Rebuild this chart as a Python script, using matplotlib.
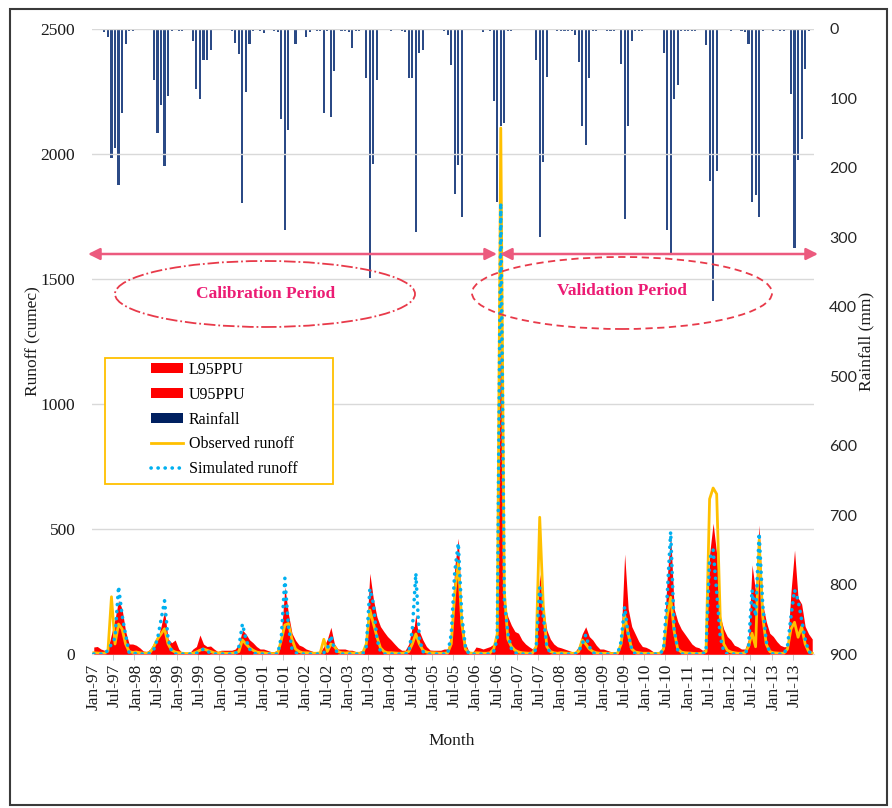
import matplotlib
matplotlib.use("Agg")
import matplotlib.pyplot as plt
from matplotlib.patches import Patch, Ellipse, Rectangle
from matplotlib.lines import Line2D

# ---------------- data (monthly, Jan-1997 .. Dec-2013) ----------------
observed = [
    5, 4, 3, 3, 12, 229, 40, 120, 100, 40, 10, 6,        # 1997
    8, 5, 3, 3, 8, 30, 60, 80, 101, 40, 15, 8,           # 1998
    5, 3, 2, 2, 3, 8, 15, 20, 15, 10, 5, 4,              # 1999
    5, 3, 3, 3, 5, 10, 56, 40, 25, 15, 8, 5,             # 2000
    5, 3, 2, 2, 5, 56, 116, 122, 60, 20, 10, 5,          # 2001
    5, 4, 3, 3, 5, 59, 10, 40, 30, 10, 5, 4,             # 2002
    5, 4, 3, 3, 5, 40, 176, 122, 69, 25, 10, 5,          # 2003
    5, 4, 3, 3, 5, 10, 40, 80, 40, 15, 8, 5,             # 2004
    5, 4, 3, 3, 5, 40, 243, 369, 120, 20, 5, 3,          # 2005
    5, 4, 3, 3, 5, 20, 80, 2104, 250, 60, 30, 15,        # 2006
    8, 5, 4, 3, 5, 30, 547, 195, 30, 10, 5, 3,           # 2007
    5, 4, 3, 3, 3, 10, 56, 40, 20, 10, 5, 3,             # 2008
    3, 3, 2, 2, 3, 40, 156, 80, 20, 8, 5, 3,             # 2009
    3, 3, 2, 2, 3, 20, 150, 227, 90, 20, 8, 5,           # 2010
    4, 3, 2, 2, 3, 10, 620, 664, 640, 150, 40, 15,       # 2011
    8, 5, 3, 3, 5, 30, 83, 29, 456, 150, 40, 10,         # 2012
    5, 4, 3, 3, 20, 100, 127, 67, 109, 40, 10, 3,        # 2013
]
simulated = [
    0, 0, 0, 0, 15, 40, 64, 270, 156, 76, 5, 0,
    3, 0, 0, 0, 3, 20, 60, 136, 213, 60, 10, 0,
    0, 0, 0, 0, 0, 3, 10, 20, 10, 5, 0, 0,
    0, 0, 0, 0, 0, 30, 120, 60, 20, 5, 0, 0,
    0, 0, 0, 0, 0, 70, 303, 110, 20, 5, 0, 0,
    0, 0, 0, 0, 0, 5, 20, 73, 20, 5, 0, 0,
    0, 0, 0, 0, 0, 30, 260, 203, 60, 10, 0, 0,
    0, 0, 0, 0, 0, 5, 96, 323, 60, 10, 0, 0,
    0, 0, 0, 0, 0, 80, 330, 443, 150, 30, 0, 0,
    0, 0, 0, 0, 0, 10, 60, 1804, 216, 83, 20, 5,
    0, 0, 0, 0, 0, 20, 265, 150, 30, 5, 0, 0,
    0, 0, 0, 0, 0, 10, 40, 76, 30, 5, 0, 0,
    0, 0, 0, 0, 0, 50, 189, 80, 20, 0, 0, 0,
    0, 0, 0, 0, 0, 20, 230, 489, 100, 15, 0, 0,
    0, 0, 0, 0, 0, 10, 380, 416, 250, 70, 10, 0,
    0, 0, 0, 0, 0, 30, 256, 150, 483, 200, 50, 5,
    0, 0, 0, 0, 30, 150, 256, 216, 136, 60, 10, 0,
]
u95ppu = [
    28, 30, 20, 15, 20, 80, 140, 215, 180, 90, 40, 40,
    35, 25, 12, 10, 20, 45, 60, 110, 172, 60, 45, 56,
    20, 5, 3, 3, 20, 30, 76, 40, 30, 32, 20, 10,
    15, 15, 15, 15, 20, 40, 96, 80, 57, 45, 30, 20,
    20, 15, 10, 10, 15, 80, 269, 160, 83, 55, 36, 30,
    20, 15, 10, 8, 8, 30, 60, 107, 40, 20, 20, 20,
    15, 15, 10, 10, 15, 60, 323, 220, 149, 110, 89, 70,
    56, 40, 25, 15, 15, 40, 110, 110, 90, 56, 30, 16,
    15, 15, 15, 20, 20, 90, 350, 463, 149, 43, 10, 5,
    28, 25, 20, 25, 30, 40, 80, 1500, 200, 149, 115, 90,
    83, 56, 40, 29, 20, 40, 320, 190, 96, 60, 40, 29,
    25, 20, 15, 10, 10, 30, 80, 109, 70, 56, 35, 20,
    20, 15, 10, 8, 8, 60, 400, 180, 110, 80, 50, 30,
    27, 20, 10, 8, 8, 40, 300, 480, 180, 130, 100, 80,
    60, 40, 29, 25, 15, 20, 400, 523, 400, 149, 100, 70,
    56, 35, 29, 20, 20, 60, 356, 250, 516, 200, 130, 83,
    70, 50, 35, 29, 30, 250, 416, 224, 200, 110, 80, 60,
]
l95ppu = [
    0, 0, 0, 0, 3, 15, 30, 120, 90, 30, 5, 0,
    0, 0, 0, 0, 0, 10, 30, 70, 110, 30, 5, 0,
    0, 0, 0, 0, 0, 0, 5, 10, 5, 0, 0, 0,
    0, 0, 0, 0, 0, 10, 60, 30, 10, 0, 0, 0,
    0, 0, 0, 0, 0, 30, 150, 60, 10, 0, 0, 0,
    0, 0, 0, 0, 0, 0, 10, 40, 10, 0, 0, 0,
    0, 0, 0, 0, 0, 15, 150, 100, 30, 5, 0, 0,
    0, 0, 0, 0, 0, 0, 50, 160, 30, 5, 0, 0,
    0, 0, 0, 0, 0, 40, 160, 220, 70, 10, 0, 0,
    0, 0, 0, 0, 0, 5, 30, 900, 100, 40, 10, 0,
    0, 0, 0, 0, 0, 10, 130, 70, 10, 0, 0, 0,
    0, 0, 0, 0, 0, 5, 20, 40, 10, 0, 0, 0,
    0, 0, 0, 0, 0, 20, 90, 40, 10, 0, 0, 0,
    0, 0, 0, 0, 0, 10, 110, 240, 50, 5, 0, 0,
    0, 0, 0, 0, 0, 5, 190, 200, 120, 30, 5, 0,
    0, 0, 0, 0, 0, 15, 120, 70, 240, 100, 20, 0,
    0, 0, 0, 0, 15, 70, 120, 100, 60, 30, 5, 0,
]
rainfall = [
    2, 0, 0, 5, 11, 186, 172, 224, 121, 22, 3, 3,        # 1997
    0, 2, 2, 2, 2, 74, 150, 110, 197, 96, 3, 0,          # 1998
    3, 3, 0, 0, 17, 86, 101, 45, 45, 30, 0, 0,           # 1999
    0, 0, 0, 3, 20, 36, 251, 90, 22, 3, 0, 3,            # 2000
    6, 0, 0, 3, 5, 129, 290, 145, 0, 22, 0, 0,           # 2001
    11, 4, 0, 3, 3, 121, 3, 127, 61, 0, 3, 3,            # 2002
    5, 28, 3, 3, 0, 71, 358, 194, 74, 0, 0, 0,           # 2003
    3, 0, 0, 3, 5, 71, 71, 292, 35, 30, 0, 0,            # 2004
    0, 0, 0, 3, 9, 52, 237, 196, 271, 0, 0, 0,           # 2005
    0, 0, 5, 0, 3, 104, 249, 140, 136, 3, 3, 0,          # 2006
    0, 2, 2, 2, 2, 44, 300, 191, 69, 0, 0, 3,            # 2007
    3, 3, 3, 3, 8, 47, 140, 167, 71, 3, 3, 0,            # 2008
    0, 3, 3, 3, 0, 50, 273, 140, 17, 3, 3, 3,            # 2009
    0, 0, 0, 0, 0, 34, 290, 324, 101, 80, 3, 3,          # 2010
    3, 3, 3, 0, 0, 23, 219, 391, 204, 0, 0, 0,           # 2011
    3, 0, 0, 3, 5, 22, 249, 239, 271, 3, 0, 0,           # 2012
    3, 0, 3, 3, 0, 93, 316, 188, 158, 57, 3, 0,          # 2013
]
tick_labels = [
    "Jan-97", "Jul-97", "Jan-98", "Jul-98", "Jan-99", "Jul-99", "Jan-00", "Jul-00",
    "Jan-01", "Jul-01", "Jan-02", "Jul-02", "Jan-03", "Jul-03", "Jan-04", "Jul-04",
    "Jan-05", "Jul-05", "Jan-06", "Jul-06", "Jan-07", "Jul-07", "Jan-08", "Jul-08",
    "Jan-09", "Jul-09", "Jan-10", "Jul-10", "Jan-11", "Jul-11", "Jan-12", "Jul-12",
    "Jan-13", "Jul-13",
]
runoff_ticks = [0, 500, 1000, 1500, 2000, 2500]
rain_ticks = [0, 100, 200, 300, 400, 500, 600, 700, 800, 900]

# ---------------- figure ----------------
SERIF = ["Liberation Serif", "DejaVu Serif"]
SANS = ["Lato", "DejaVu Sans"]

W, H = 892, 808
fig = plt.figure(figsize=(W / 100, H / 100), dpi=100)
L, R, T, B = 92, 814, 29, 654
ax = fig.add_axes([L / W, 1 - B / H, (R - L) / W, (B - T) / H])
ax2 = ax.twinx()
ax.set_zorder(ax2.get_zorder() + 1)
ax.patch.set_visible(False)

n = len(observed)
x = list(range(n))

# rainfall bars (secondary, inverted axis)
ax2.bar(x, rainfall, width=0.6, color="#2B4A86", linewidth=0, zorder=2)
ax2.set_ylim(900, 0)
ax2.set_yticks(rain_ticks)
ax2.set_yticklabels([str(v) for v in rain_ticks], fontfamily=SANS, fontsize=11.5, color="#262626")
ax2.tick_params(axis="y", length=0, pad=11)

# runoff
ax.fill_between(x, 0, u95ppu, color="#FF0000", linewidth=0, zorder=3)
ax.fill_between(x, 0, l95ppu, color="#FF0000", linewidth=0, zorder=3)
ax.plot(x, observed, color="#FFC000", linewidth=2.0, zorder=4)
ax.plot(x, simulated, color="#00B0F0", linewidth=2.6, linestyle=(0, (0.05, 1.9)),
        dash_capstyle="round", zorder=5)

ax.set_xlim(-0.5, n - 0.5)
ax.set_ylim(0, 2500)
ax.set_yticks(runoff_ticks)
ax.set_yticklabels([str(v) for v in runoff_ticks], fontfamily=SERIF, fontsize=12.5, color="#1a1a1a")
ax.tick_params(axis="y", length=0, pad=12)
ax.grid(axis="y", color="#D9D9D9", linewidth=1.0, zorder=0)

ax.set_xticks(list(range(0, n, 6)))
ax.set_xticklabels(tick_labels, rotation=90, fontfamily=SERIF, fontsize=12.5, color="#1a1a1a")
ax.set_xticks([i - 0.5 for i in range(6, n, 6)], minor=True)
ax.tick_params(axis="x", which="major", length=0, pad=7)
ax.tick_params(axis="x", which="minor", length=4, color="#BFBFBF")

for a in (ax, ax2):
    for s in ("top", "left", "right"):
        a.spines[s].set_visible(False)
    a.spines["bottom"].set_color("#D9D9D9")

# axis titles
fig.text(33 / W, 1 - 341 / H, "Runoff (cumec)", rotation=90, ha="center", va="center",
         fontfamily=SERIF, fontsize=12.5, color="#1a1a1a")
fig.text(866 / W, 1 - 341 / H, "Rainfall (mm)", rotation=90, ha="center", va="center",
         fontfamily=SERIF, fontsize=12.5, color="#1a1a1a")
fig.text(452 / W, 1 - 741 / H, "Month", ha="center", va="center",
         fontfamily=SERIF, fontsize=12.5, color="#1a1a1a")

# helper: pixel -> axes fraction
def fx(px):
    return (px - L) / (R - L)

def fy(py):
    return (B - py) / (B - T)

# period arrows
arrow_col = "#EC5A7E"
for x0, x1 in ((88, 497), (500, 818)):
    ax.annotate("", xy=(fx(x1), fy(254)), xytext=(fx(x0), fy(254)), xycoords="axes fraction",
                textcoords="axes fraction", annotation_clip=False,
                arrowprops=dict(arrowstyle="<|-|>,head_length=0.7,head_width=0.35",
                                color=arrow_col, lw=1.8, shrinkA=0, shrinkB=0), zorder=7)

# period ellipses and texts
ell_col = "#E83A4A"
e1 = Ellipse((fx(265), fy(294)), 300 / (R - L), 66 / (B - T), transform=ax.transAxes,
             fill=False, edgecolor=ell_col, linewidth=1.3, linestyle="-.", zorder=7)
e2 = Ellipse((fx(622), fy(293)), 300 / (R - L), 72 / (B - T), transform=ax.transAxes,
             fill=False, edgecolor=ell_col, linewidth=1.3, linestyle=(0, (4, 2.5)), zorder=7)
ax.add_patch(e1)
ax.add_patch(e2)
txt_col = "#EC1C74"
ax.text(fx(266), fy(294), "Calibration Period", transform=ax.transAxes, ha="center", va="center",
        fontfamily=SERIF, fontsize=12.5, fontweight="bold", color=txt_col, zorder=8)
ax.text(fx(622), fy(291), "Validation Period", transform=ax.transAxes, ha="center", va="center",
        fontfamily=SERIF, fontsize=12.5, fontweight="bold", color=txt_col, zorder=8)

# legend
box = Rectangle((fx(105), fy(484)), (333 - 105) / (R - L), (484 - 358) / (B - T),
                transform=ax.transAxes, fill=True, facecolor="white", edgecolor="#FFC000",
                linewidth=1.3, zorder=9)
ax.add_patch(box)
handles = [
    Patch(facecolor="#FF0000", edgecolor="none"),
    Patch(facecolor="#FF0000", edgecolor="none"),
    Patch(facecolor="#002060", edgecolor="none"),
    Line2D([], [], color="#FFC000", linewidth=2.0),
    Line2D([], [], color="#00B0F0", linewidth=2.6, linestyle=(0, (0.05, 1.9)), dash_capstyle="round"),
]
labels = ["L95PPU", "U95PPU", "Rainfall", "Observed runoff", "Simulated runoff"]
leg = ax.legend(handles, labels, loc="upper left", bbox_to_anchor=(fx(151), fy(362)),
                frameon=False, prop={"family": SERIF, "size": 11.5}, handlelength=2.0,
                handleheight=0.6, handletextpad=0.35, labelspacing=0.55, borderpad=0,
                borderaxespad=0)
leg.set_zorder(10)

# outer frame
fig.add_artist(Rectangle((10 / W, 1 - 805 / H), (887 - 10) / W, (805 - 9) / H,
                         transform=fig.transFigure, fill=False, edgecolor="#3a3a3a", linewidth=1.5))

fig.savefig("out.png", dpi=100)
